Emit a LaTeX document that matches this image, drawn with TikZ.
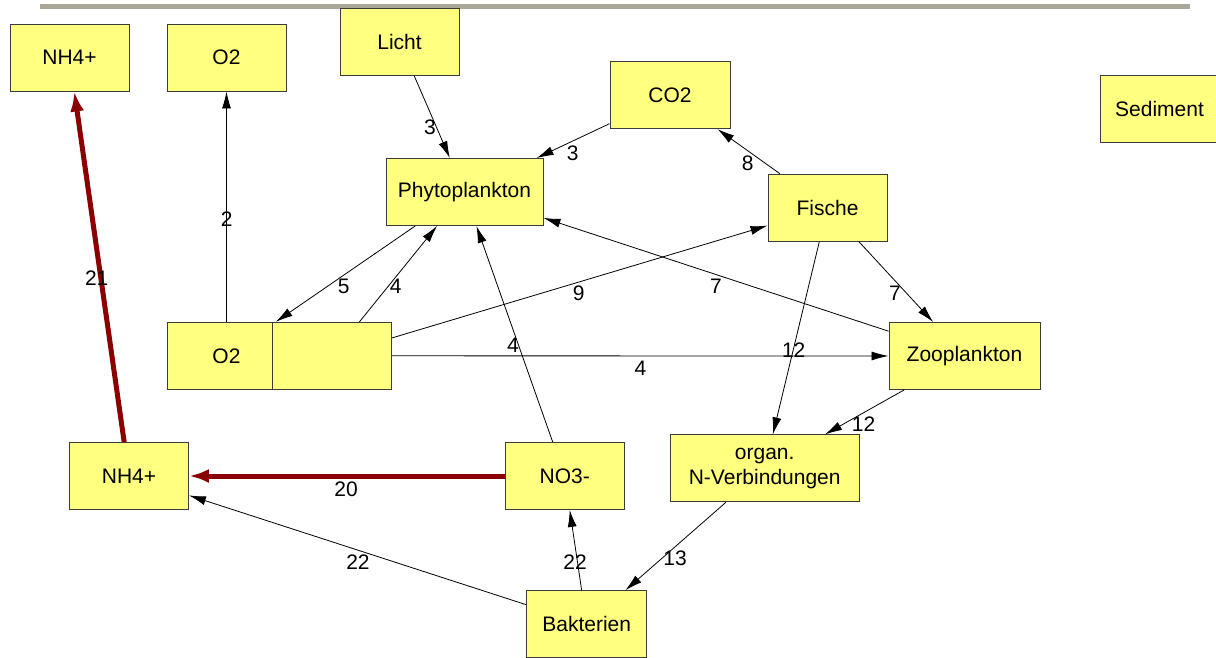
\documentclass[tikz,border=0pt]{standalone}
\usepackage{fontspec}
\setmainfont{Liberation Sans}
\usetikzlibrary{arrows.meta}
\definecolor{boxfill}{RGB}{255,255,128}
\definecolor{boxline}{RGB}{60,60,60}
\definecolor{flowred}{RGB}{139,0,0}
\definecolor{rulegray}{RGB}{170,166,153}
\begin{document}
\begin{tikzpicture}[x=1pt,y=-1pt,
  box/.style={draw=boxline, fill=boxfill, line width=0.9pt, minimum height=67pt, inner sep=0pt, font=\fontsize{21}{25}\selectfont, align=center},
  flow/.style={draw=black, line width=0.8pt, -{Latex[length=17pt,width=9pt]}},
  redflow/.style={draw=flowred, line width=5pt, -{Latex[length=20pt,width=14pt]}},
  lbl/.style={font=\fontsize{21}{25}\selectfont, inner sep=0pt}]
\fill[white] (0,0) rectangle (1216,657);
\useasboundingbox (0,0) rectangle (1216,657);
\draw[rulegray, line width=4.7pt] (40,6.3) -- (1190,6.3);
% nodes
\node[box, minimum width=119pt] (nhtop) at (69.5,57.5) {NH4+};
\node[box, minimum width=119pt] (otop) at (226.5,57.5) {O2};
\node[box, minimum width=119pt] (licht) at (399.5,41.8) {Licht};
\node[box, minimum width=157pt] (phyto) at (464.5,192) {Phytoplankton};
\node[box, minimum width=120pt] (co2) at (670,95.2) {CO2};
\node[box, minimum width=119pt] (sed) at (1159.5,109.2) {Sediment};
\node[box, minimum width=119pt] (fische) at (827.5,207.7) {Fische};
\node[box, minimum width=119pt] (olow) at (226.5,355.8) {O2};
\node[box, minimum width=119pt] (empty) at (332,355.8) {};
\node[box, minimum width=151pt] (zoo) at (964.5,356) {Zooplankton};
\node[box, minimum width=119pt] (nhlow) at (129,476) {NH4+};
\node[box, minimum width=119pt] (no3) at (564.7,476) {NO3-};
\node[box, minimum width=189pt] (organ) at (764.7,468.3) {organ.\\N-Verbindungen};
\node[box, minimum width=120pt] (bakt) at (586.7,624.2) {Bakterien};
% connectors
\draw[flow] (licht) -- (phyto);
\draw[flow] (co2) -- (phyto);
\draw[flow] (fische) -- (co2);
\draw[flow] (olow) -- (otop);
\draw[redflow] (nhlow) -- (nhtop);
\draw[flow] (phyto) -- (olow);
\draw[flow] (empty) -- (phyto);
\draw[flow] (empty) -- (fische);
\draw[flow] (empty) -- (zoo);
\draw[flow] (no3) -- (phyto);
\draw[flow] (zoo) -- (phyto);
\draw[flow] (fische) -- (zoo);
\draw[flow] (fische) -- (organ);
\draw[flow] (zoo) -- (organ);
\draw[flow] (organ) -- (bakt);
\draw[flow] (bakt) -- (nhlow);
\draw[flow] (bakt) -- (no3);
\draw[redflow] (no3) -- (nhlow);
% labels
\node[lbl] (l1) at (430,127.5) {3};
\node[lbl] (l2) at (572.6,153) {3};
\node[lbl] (l3) at (747.7,163) {8};
\node[lbl] (l4) at (226.7,219) {2};
\node[lbl] (l5) at (96.7,278) {21};
\node[lbl] (l6) at (343.8,286) {5};
\node[lbl] (l7) at (395.7,286) {4};
\node[lbl] (l8) at (578.7,293.5) {9};
\node[lbl] (l9) at (716,286) {7};
\node[lbl] (l10) at (895,293.5) {7};
\node[lbl] (l11) at (513,345) {4};
\node[lbl] (l12) at (640.4,368.5) {4};
\node[lbl] (l13) at (793.7,350.5) {12};
\node[lbl] (l14) at (863.6,424) {12};
\node[lbl] (l15) at (346,489) {20};
\node[lbl] (l16) at (358,561.7) {22};
\node[lbl] (l17) at (575,561.7) {22};
\node[lbl] (l18) at (675,558) {13};
\end{tikzpicture}
\end{document}
